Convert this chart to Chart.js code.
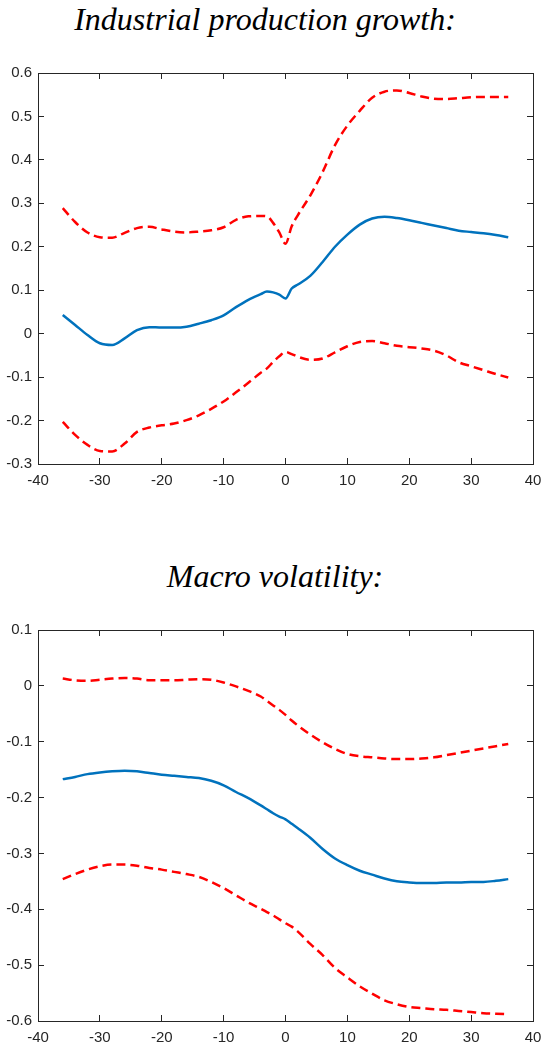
<!DOCTYPE html>
<html>
<head>
<meta charset="utf-8">
<script src="https://cdn.jsdelivr.net/npm/chart.js@4.4.1/dist/chart.umd.min.js"></script>
<style>
  body { margin: 0; background: #fff; width: 542px; height: 1047px; position: relative; overflow: hidden; }
  .title { position: absolute; width: 542px; text-align: center; font-family: "Liberation Serif", "DejaVu Serif", serif; font-style: italic; font-size: 32px; line-height: 32px; color: #000; white-space: nowrap; }
  .box { position: absolute; left: 0; width: 542px; height: 430px; }
</style>
</head>
<body>
<div class="title" style="top:3px; left:-6px">Industrial production growth:</div>
<div class="box" style="top:60px"><canvas id="ipChart" width="542" height="430"></canvas></div>
<div class="title" style="top:560px; left:4px">Macro volatility:</div>
<div class="box" style="top:617px"><canvas id="volChart" width="542" height="430"></canvas></div>

<script>
// horizon in months
const months = [-36, -34, -32, -30, -28, -26, -24, -22, -20, -18, -16, -14, -12, -10, -8, -6, -4, -3, -2, -1,
  0, 1, 2, 4, 6, 8, 10, 12, 14, 16, 18, 20, 22, 24, 26, 28, 30, 32, 34, 36];

// industrial production growth
const ipMean = [0.043, 0.020, -0.003, -0.022, -0.026, -0.011, 0.008, 0.015, 0.014, 0.014, 0.016, 0.023, 0.031, 0.042,
  0.061, 0.078, 0.091, 0.097, 0.095, 0.090, 0.081, 0.104, 0.113, 0.133, 0.165, 0.200, 0.228, 0.251, 0.265, 0.269,
  0.266, 0.261, 0.255, 0.249, 0.243, 0.237, 0.234, 0.231, 0.227, 0.222];
const ipUpper = [0.289, 0.257, 0.233, 0.222, 0.221, 0.232, 0.243, 0.246, 0.240, 0.235, 0.233, 0.235, 0.238, 0.245,
  0.262, 0.270, 0.271, 0.270, 0.255, 0.233, 0.207, 0.247, 0.273, 0.318, 0.372, 0.434, 0.479, 0.513, 0.543, 0.557,
  0.560, 0.554, 0.546, 0.541, 0.540, 0.542, 0.544, 0.545, 0.545, 0.545];
const ipLower = [-0.203, -0.233, -0.256, -0.270, -0.271, -0.253, -0.226, -0.216, -0.211, -0.207, -0.199, -0.188,
  -0.173, -0.156, -0.135, -0.113, -0.090, -0.080, -0.065, -0.052, -0.042, -0.047, -0.053, -0.060, -0.057, -0.043,
  -0.029, -0.019, -0.017, -0.022, -0.028, -0.031, -0.034, -0.039, -0.050, -0.066, -0.075, -0.084, -0.093, -0.101];

// macro volatility
const volMean = [-0.167, -0.163, -0.158, -0.155, -0.153, -0.152, -0.153, -0.156, -0.159, -0.161, -0.163, -0.165,
  -0.170, -0.178, -0.190, -0.201, -0.214, -0.221, -0.228, -0.234, -0.239, -0.247, -0.255, -0.272, -0.292, -0.309,
  -0.321, -0.331, -0.338, -0.345, -0.350, -0.352, -0.353, -0.353, -0.352, -0.352, -0.351, -0.351, -0.349, -0.346];
const volUpper = [0.013, 0.010, 0.009, 0.011, 0.013, 0.014, 0.013, 0.010, 0.010, 0.010, 0.011, 0.012, 0.011, 0.006,
  -0.001, -0.009, -0.019, -0.027, -0.035, -0.043, -0.052, -0.062, -0.071, -0.087, -0.101, -0.113, -0.122, -0.126,
  -0.128, -0.130, -0.131, -0.131, -0.130, -0.128, -0.124, -0.120, -0.116, -0.112, -0.108, -0.104];
const volLower = [-0.346, -0.337, -0.329, -0.323, -0.320, -0.320, -0.322, -0.326, -0.329, -0.333, -0.337, -0.342,
  -0.351, -0.362, -0.375, -0.388, -0.399, -0.405, -0.411, -0.418, -0.425, -0.431, -0.440, -0.462, -0.482, -0.505,
  -0.522, -0.538, -0.551, -0.563, -0.570, -0.575, -0.577, -0.579, -0.580, -0.582, -0.584, -0.586, -0.587, -0.588];

// tick labels
const xTicks = [-40, -30, -20, -10, 0, 10, 20, 30, 40];
const ipTicks = [-0.3, -0.2, -0.1, 0, 0.1, 0.2, 0.3, 0.4, 0.5, 0.6];
const volTicks = [-0.6, -0.5, -0.4, -0.3, -0.2, -0.1, 0, 0.1];

const axisColor = "#262626";

function fixTicks(list) {
  return function (scale) { scale.ticks = list.map(v => ({ value: v })); };
}

// pin the axis box size and drop the label overhang padding so the plot box sits where the reference has it
function pinSize(prop, size) {
  return function (s) {
    s[prop] = size;
    s.paddingTop = 0; s.paddingBottom = 0; s.paddingLeft = 0; s.paddingRight = 0;
  };
}

function fmt(v) {
  return Math.abs(v) < 1e-9 ? "0" : String(Math.round(v * 10) / 10);
}

function pts(ys) {
  return months.map((m, i) => ({ x: m, y: ys[i] }));
}

function makeChart(id, mean, upper, lower, yTicks) {
  const frame = { display: true, color: axisColor, width: 1 };
  const grid = { drawOnChartArea: false, drawTicks: true, tickLength: -6, color: axisColor, lineWidth: 1 };
  const tickFont = { family: '"Liberation Sans", Arial, sans-serif', size: 15 };
  const yMin = yTicks[0], yMax = yTicks[yTicks.length - 1];
  const band = { borderColor: "#FF0000", borderWidth: 2.5, borderDash: [9, 5], cubicInterpolationMode: "monotone" };

  new Chart(document.getElementById(id), {
    type: "line",
    data: {
      datasets: [
        Object.assign({ data: pts(upper) }, band),
        Object.assign({ data: pts(lower) }, band),
        { data: pts(mean), borderColor: "#0072BD", borderWidth: 2.5, cubicInterpolationMode: "monotone" }
      ]
    },
    options: {
      responsive: false,
      animation: false,
      devicePixelRatio: 1,
      layout: { padding: { top: 13, right: 9, bottom: 0, left: 0 } },
      plugins: { legend: { display: false }, tooltip: { enabled: false } },
      elements: { point: { radius: 0 } },
      scales: {
        x: {
          type: "linear", position: "bottom", min: -40, max: 40,
          afterBuildTicks: fixTicks(xTicks),
          afterFit: pinSize("height", 26),
          border: frame, grid: grid,
          ticks: { color: axisColor, font: tickFont, padding: 14, maxRotation: 0, autoSkip: false }
        },
        x2: {
          type: "linear", position: "top", min: -40, max: 40,
          afterBuildTicks: fixTicks(xTicks),
          afterFit: pinSize("height", 0),
          border: frame, grid: grid,
          ticks: { display: false }
        },
        y: {
          type: "linear", position: "left", min: yMin, max: yMax,
          afterBuildTicks: fixTicks(yTicks),
          afterFit: pinSize("width", 38),
          border: frame, grid: grid,
          ticks: { color: axisColor, font: tickFont, padding: 12, callback: fmt, autoSkip: false }
        },
        y2: {
          type: "linear", position: "right", min: yMin, max: yMax,
          afterBuildTicks: fixTicks(yTicks),
          afterFit: pinSize("width", 0),
          border: frame, grid: grid,
          ticks: { display: false }
        }
      }
    }
  });
}

makeChart("ipChart", ipMean, ipUpper, ipLower, ipTicks);
makeChart("volChart", volMean, volUpper, volLower, volTicks);
</script>
</body>
</html>
